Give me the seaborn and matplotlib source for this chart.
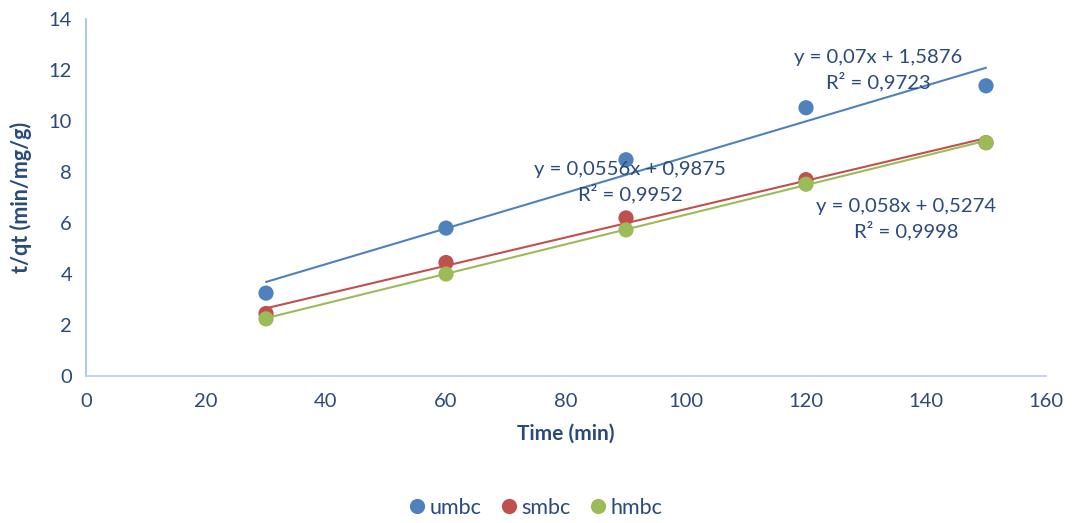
import matplotlib
matplotlib.use("Agg")
import matplotlib.pyplot as plt
import seaborn as sns
import pandas as pd
import numpy as np

# Contact time (min) and t/qt values per adsorbent
time_min = [30, 60, 90, 120, 150]
umbc = [3.25, 5.80, 8.48, 10.52, 11.38]
smbc = [2.45, 4.45, 6.20, 7.70, 9.15]
hmbc = [2.24, 4.00, 5.73, 7.52, 9.15]

# Linear fits (slope, intercept, R²)
fit_umbc = (0.07, 1.5876, 0.9723)
fit_smbc = (0.0556, 0.9875, 0.9952)
fit_hmbc = (0.058, 0.5274, 0.9998)

names = ["umbc", "smbc", "hmbc"]
colors = {"umbc": "#4f81bd", "smbc": "#c0504d", "hmbc": "#9bbb59"}
text_color = "#2a4a7b"

sns.set_theme(style="white")
plt.rcParams["font.family"] = ["Lato", "DejaVu Sans"]

points = pd.DataFrame({
    "time": time_min * 3,
    "tqt": umbc + smbc + hmbc,
    "series": [n for n in names for _ in time_min],
})

fits = {"umbc": fit_umbc, "smbc": fit_smbc, "hmbc": fit_hmbc}
line_rows = []
for n in names:
    a, b, _ = fits[n]
    for x in (time_min[0], time_min[-1]):
        line_rows.append({"time": x, "tqt": a * x + b, "series": n})
lines = pd.DataFrame(line_rows)

fig = plt.figure(figsize=(10.72, 5.23), dpi=100)
ax = fig.add_axes([86 / 1072, 1 - 376 / 523, 960 / 1072, 357 / 523])

sns.lineplot(data=lines, x="time", y="tqt", hue="series", palette=colors,
             linewidth=1.5, legend=False, ax=ax, zorder=2)
sns.scatterplot(data=points, x="time", y="tqt", hue="series", palette=colors,
                s=120, edgecolor="none", ax=ax, zorder=3)

ax.set_xlim(0, 160)
ax.set_ylim(0, 14)
ax.set_xticks(np.arange(0, 161, 20))
ax.set_yticks(np.arange(0, 15, 2))
ax.tick_params(axis="both", length=0, labelsize=14.5, colors=text_color)
ax.tick_params(axis="x", pad=12)
ax.tick_params(axis="y", pad=10)

for side in ("top", "right"):
    ax.spines[side].set_visible(False)
ax.spines["left"].set_color("#9fbde3")
ax.spines["bottom"].set_color("#b9cde5")
ax.spines["left"].set_linewidth(1.2)
ax.spines["bottom"].set_linewidth(1.2)

ax.set_xlabel("Time (min)", fontsize=15, fontweight="bold", color=text_color, labelpad=10)
ax.set_ylabel("t/qt (min/mg/g)", fontsize=15.5, fontweight="bold", color=text_color, labelpad=12)

def fmt(v):
    return f"{v}".replace(".", ",")

ann = [
    (fit_umbc, 132, 12.0),
    (fit_smbc, 90.7, 7.59),
    (fit_hmbc, 136.7, 6.16),
]
for (a, b, r2), x, y in ann:
    ax.text(x, y, f"y = {fmt(a)}x + {fmt(b)}\nR² = {fmt(r2)}", ha="center", va="center",
            fontsize=14.6, color=text_color, linespacing=1.35, zorder=4)

handles, labels = ax.get_legend_handles_labels()
ax.get_legend().remove()
fig.legend(handles=handles, labels=labels, loc="center", bbox_to_anchor=(0.5, 1 - 508 / 523),
           ncol=3, frameon=False, fontsize=15.5, labelcolor=text_color,
           handlelength=0.7, handletextpad=0.25, columnspacing=0.9, markerscale=1.0)

fig.savefig("out.png", dpi=100)
